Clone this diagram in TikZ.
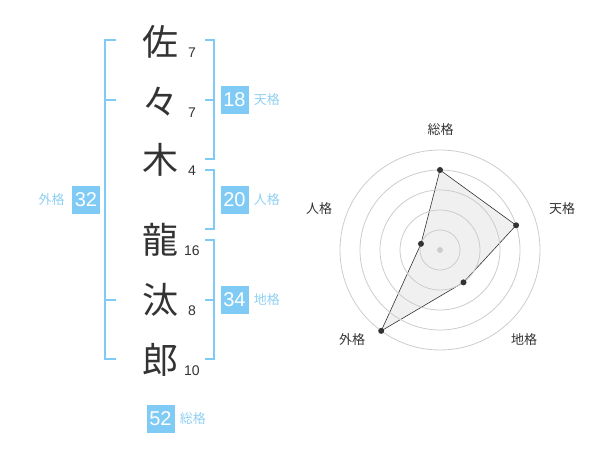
\documentclass[tikz,border=0pt]{standalone}
\usepackage{fontspec}
\setmainfont{Liberation Sans}
\newfontfamily\jp{Noto Sans CJK JP}
\usetikzlibrary{positioning}
\definecolor{kakublue}{HTML}{7FCBF5}
\definecolor{kakulabel}{HTML}{8FD0F2}
\definecolor{inkgray}{HTML}{333333}
\definecolor{ringgray}{HTML}{CCCCCC}
\tikzset{
  kanji/.style={font=\jp\fontsize{36}{36}\selectfont, text=inkgray, inner sep=0pt},
  strokes/.style={font=\fontsize{14}{14}\selectfont, text=inkgray, inner sep=0pt},
  kakubox/.style={fill=kakublue, text=white, minimum size=28pt, inner sep=0pt, font=\fontsize{20}{20}\selectfont},
  kakuname/.style={font=\jp\fontsize{13}{13}\selectfont, text=kakulabel, inner sep=0pt},
  bracket/.style={draw=kakublue, line width=2pt},
  ring/.style={draw=ringgray, line width=0.8pt},
  axisname/.style={font=\jp\fontsize{13}{13}\selectfont, text=inkgray, inner sep=0pt},
  dot/.style={circle, fill=inkgray, minimum size=6pt, inner sep=0pt}
}
\begin{document}
\begin{tikzpicture}[x=1pt,y=-1pt]
\useasboundingbox (0,0) rectangle (600,470);
\foreach \ch/\num/\y/\i in {佐/7/42/1, 々/7/102/2, 木/4/160/3, 龍/16/240/4, 汰/8/300/5, 郎/10/360/6}{
    \node[kanji] (k\i) at (160,\y) {\ch};
    \node[strokes] (s\i) at (192,{\y+11}) {\num};
}

\draw[bracket] (116,40) -- (105,40) -- (105,359) -- (116,359);
\draw[bracket] (105,100) -- (116,100);
\draw[bracket] (105,300) -- (116,300);
\draw[bracket] (205,40) -- (214,40) -- (214,159) -- (205,159);
\draw[bracket] (205,100) -- (214,100);
\draw[bracket] (205,170) -- (214,170) -- (214,229) -- (205,229);
\draw[bracket] (205,240) -- (214,240) -- (214,359) -- (205,359);
\draw[bracket] (205,300) -- (214,300);

\node[kakubox] (tenkaku) at (234.5,100) {18};
\node[kakuname, right=5pt of tenkaku] (tenname) {天格};
\node[kakubox] (jinkaku) at (234.5,200) {20};
\node[kakuname, right=5pt of jinkaku] (jinname) {人格};
\node[kakubox] (chikaku) at (234.5,300) {34};
\node[kakuname, right=5pt of chikaku] (chiname) {地格};
\node[kakubox] (gaikaku) at (86,200) {32};
\node[kakuname, left=7pt of gaikaku] (gainame) {外格};
\node[kakubox] (soukaku) at (160.5,419) {52};
\node[kakuname, right=5pt of soukaku] (souname) {総格};

\begin{scope}[shift={(440,250)}, yscale=-1]
\coordinate (psou) at (90:80);
\coordinate (pten) at (18:80);
\coordinate (pchi) at (-54:40);
\coordinate (pgai) at (-126:100);
\coordinate (pjin) at (162:20);
\filldraw[fill=black, fill opacity=0.06, draw=inkgray, line width=0.6pt] (psou) -- (pten) -- (pchi) -- (pgai) -- (pjin) -- cycle;
\foreach \r in {20,40,60,80,100}
    \draw[ring] (0,0) circle[radius=\r];
\fill[ringgray] (0,0) circle[radius=3];
\foreach \p in {psou,pten,pchi,pgai,pjin}
    \node[dot] (d\p) at (\p) {};
\node[axisname] (asou) at (0.7,120) {総格};
\node[axisname] (aten) at (122,41) {天格};
\node[axisname] (ajin) at (-121,41) {人格};
\node[axisname] (agai) at (-88,-90) {外格};
\node[axisname] (achi) at (84,-90) {地格};
\end{scope}
\end{tikzpicture}
\end{document}
